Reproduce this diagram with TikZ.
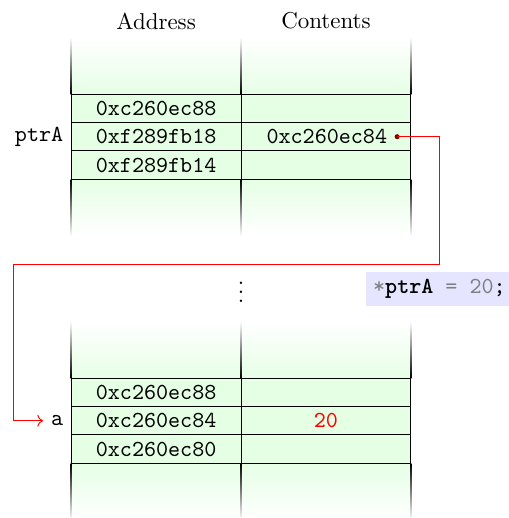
\documentclass[tikz,border=0pt]{standalone}
\usetikzlibrary{arrows.meta,positioning}

\begin{document}
\begin{tikzpicture}[>=To]
  % Column width, row height, column edges, faded stub length
  \def\W{2.6}
  \def\H{0.435}
  \def\xL{1.09}
  \def\xM{3.69}
  \def\xR{6.29}
  \def\ext{0.87}

  \tikzset{
    cell/.style={draw, fill=green!10, minimum width=\W cm, minimum height=\H cm,
      inner sep=0pt, outer sep=0pt, font=\ttfamily},
    varname/.style={font=\ttfamily, inner sep=3.3pt},
    ptrline/.style={red, ->},
    codebox/.style={fill=blue!10, font=\ttfamily, inner sep=3.3pt},
  }

  \useasboundingbox (0,0) rectangle (7.78,-7.93);

  % Column titles
  \node (haddr) at (2.39,-0.32) {Address};
  \node (hcont) at (4.99,-0.32) {Contents};

  % Faded stubs above and below each block (top/bottom edge of the rows)
  \foreach \yt/\yb in {-1.44/-2.745, -5.789/-7.094} {
    \shade[top color=white, bottom color=green!10] (\xL,\yt+\ext) rectangle (\xR,\yt);
    \shade[top color=green!10, bottom color=white] (\xL,\yb) rectangle (\xR,\yb-\ext);
    \foreach \x in {\xL,\xM,\xR} {
      \shade[top color=white, bottom color=black] (\x-0.007,\yt+\ext) rectangle (\x+0.007,\yt);
      \shade[top color=black, bottom color=white] (\x-0.007,\yb) rectangle (\x+0.007,\yb-\ext);
    }
  }

  % Upper block: where ptrA is stored
  \node[cell] (ua1) at (2.39,-1.6575) {0xc260ec88};
  \node[cell, below=0pt of ua1] (ua2) {0xf289fb18};
  \node[cell, below=0pt of ua2] (ua3) {0xf289fb14};
  \node[cell, right=0pt of ua1] (uc1) {};
  \node[cell, right=0pt of ua2] (uc2) {};
  \node[cell, right=0pt of ua3] (uc3) {};
  \node[varname, left=0pt of ua2] (ptrA) {ptrA};
  \node[font=\ttfamily, left=0.24 of uc2.east] (pval) {0xc260ec84};
  \coordinate[left=0.21 of uc2.east] (ptrdot);
  \fill[red!50!black] (ptrdot) circle (1.1pt);

  % Gap in memory
  \node (gap) at (3.69,-4.365) {$\vdots$};

  % Statement being executed
  \node[codebox, anchor=west] (code) at (5.59,-4.425)
    {\textcolor{gray}{*}\textbf{ptrA} \textcolor{gray}{= 20};};

  % Lower block: where a is stored
  \node[cell] (la1) at (2.39,-6.006) {0xc260ec88};
  \node[cell, below=0pt of la1] (la2) {0xc260ec84};
  \node[cell, below=0pt of la2] (la3) {0xc260ec80};
  \node[cell, right=0pt of la1] (lc1) {};
  \node[cell, right=0pt of la2] (lc2) {\textcolor{red}{20}};
  \node[cell, right=0pt of la3] (lc3) {};
  \node[varname, left=0pt of la2] (vara) {a};

  % ptrA points at a
  \draw[ptrline] (ptrdot) -- ++(0.647,0) |- (0.207,-4.048) |- (vara.west);
\end{tikzpicture}
\end{document}
